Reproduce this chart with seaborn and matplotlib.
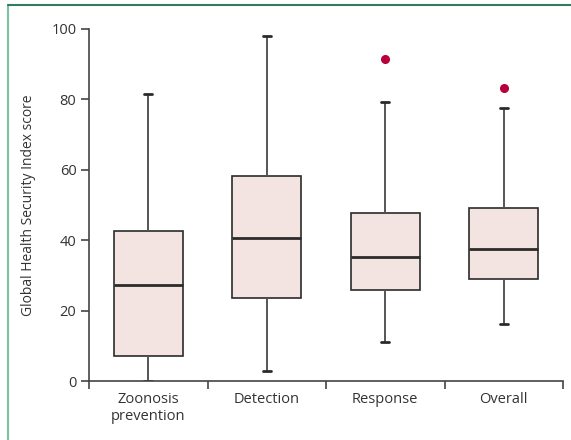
import pandas as pd
import matplotlib
matplotlib.use("Agg")
import matplotlib.pyplot as plt
from matplotlib.lines import Line2D
import seaborn as sns

# Box summaries
categories = ["Zoonosis\nprevention", "Detection", "Response", "Overall"]
mins = [0.0, 2.9, 11.2, 16.2]
q1s = [7.1, 23.5, 25.9, 29.0]
medians = [27.2, 40.6, 35.2, 37.5]
q3s = [42.6, 58.3, 47.7, 49.1]
maxes = [81.5, 98.0, 79.3, 77.6]
outliers = [None, None, 91.5, 83.1]

# Build a small sample per category whose quartiles equal the summary
rows = []
for cat, lo, a, m, b, hi, out in zip(categories, mins, q1s, medians, q3s, maxes, outliers):
    vals = [lo, a, a, m, m, b, b, hi, out if out is not None else hi]
    for v in vals:
        rows.append({"category": cat, "score": v})
df = pd.DataFrame(rows)

sns.set_style("white")
plt.rcParams["font.family"] = ["Open Sans", "DejaVu Sans"]

fig = plt.figure(figsize=(5.71, 4.4), dpi=100)
ax = fig.add_axes([89 / 571, 59 / 440, 474 / 571, 352 / 440])

sns.boxplot(data=df, x="category", y="score", order=categories, ax=ax,
            width=0.58, color="#f6e2df", linecolor="#2b2b2b", linewidth=1.2,
            whis=1.5, fliersize=5.5,
            medianprops={"linewidth": 2.0, "color": "#2b2b2b"},
            whiskerprops={"color": "#555555", "linewidth": 1.4},
            capprops={"color": "#2b2b2b", "linewidth": 2.0},
            flierprops={"marker": "o", "markerfacecolor": "#b8003a",
                        "markeredgecolor": "#b8003a"},
            capwidths=0.065)

ax.set_xlim(-0.5, 3.5)
ax.set_ylim(0, 100)
ax.set_yticks([0, 20, 40, 60, 80, 100])
ax.set_xticks([-0.5, 0.5, 1.5, 2.5, 3.5])
ax.set_xticklabels([])
ax.set_xticks(range(4), minor=True)
ax.set_xticklabels(categories, minor=True)
ax.tick_params(axis="x", which="minor", bottom=True, length=0, pad=8,
               labelsize=10.5, labelcolor="#333333")
ax.tick_params(axis="x", which="major", bottom=True, direction="out",
               length=6, width=1.2, color="#444444")
ax.tick_params(axis="y", left=True, direction="out", length=6, width=1.2,
               color="#444444", labelsize=10.5, labelcolor="#333333", pad=3)
ax.set_xlabel("")
ax.set_ylabel("Global Health Security Index score", fontsize=10,
              color="#333333", labelpad=11)

for side in ["top", "right"]:
    ax.spines[side].set_visible(False)
for side in ["left", "bottom"]:
    ax.spines[side].set_color("#444444")
    ax.spines[side].set_linewidth(1.2)

# Journal frame lines
fig.add_artist(Line2D([7.5 / 571, 7.5 / 571], [0, 1 - 5 / 440],
                      transform=fig.transFigure, color="#7cbfa1", linewidth=1.5))
fig.add_artist(Line2D([7.5 / 571, 1], [1 - 5 / 440, 1 - 5 / 440],
                      transform=fig.transFigure, color="#2f7d5c", linewidth=1.5))

fig.savefig("out.png", dpi=100)
